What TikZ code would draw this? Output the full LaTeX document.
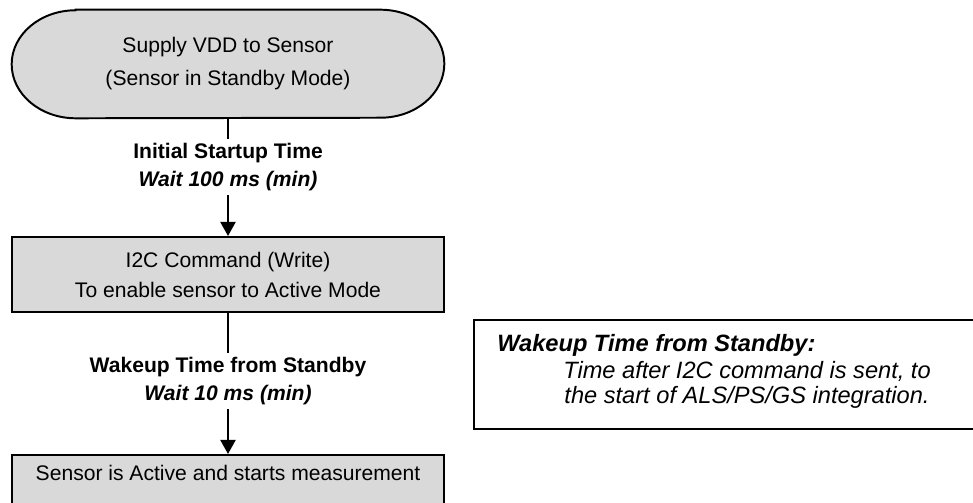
\documentclass[tikz,border=0pt]{standalone}
\usepackage{fontspec}
\setmainfont{Liberation Sans}
\usetikzlibrary{arrows.meta}

\begin{document}
\begin{tikzpicture}[x=0.025cm,y=-0.025cm,
    startbox/.style={rectangle, minimum width=10.8cm, minimum height=2.7cm, align=center,
        font=\fontsize{15}{23.4}\selectfont},
    procbox/.style={rectangle, draw=black, line width=1.4pt, fill=black!15,
        minimum width=10.8cm, minimum height=1.875cm, align=center,
        font=\fontsize{15}{21.3}\selectfont},
    waitlabel/.style={align=center, inner xsep=2pt, inner ysep=0.1cm,
        font=\fontsize{15}{20}\selectfont\bfseries},
    link/.style={line width=1.4pt},
    notebox/.style={rectangle, draw=black, line width=1.4pt, inner sep=0pt,
        minimum width=14cm, minimum height=2.725cm},
    notetext/.style={inner sep=0pt, align=center,
        font=\fontsize{16.8}{17.7}\selectfont\itshape}
]

    % page size, the right note and the last box run off the edge
    \useasboundingbox (0,0) rectangle (973,503);
    \clip (0,0) rectangle (973,503);

    % flow on the left
    \node[startbox] (supply) at (228,64) {};
    % terminal outline with elliptic ends
    \filldraw[fill=black!15, draw=black, line width=1.4pt]
        ([xshift=1.6cm]supply.north west) -- ([xshift=-1.6cm]supply.north east)
        arc[start angle=90, end angle=-90, x radius=1.6cm, y radius=1.35cm]
        -- ([xshift=1.6cm]supply.south west)
        arc[start angle=270, end angle=90, x radius=1.6cm, y radius=1.35cm] -- cycle;
    \node[startbox] (supplytext) at (supply) {Supply VDD to Sensor\\(Sensor in Standby Mode)};
    \node[waitlabel] (lblstart) at (228,167) {Initial Startup Time\\\itshape Wait 100 ms (min)};
    \node[procbox] (i2c) at (228,274.5) {I2C Command (Write)\\To enable sensor to Active Mode};
    \node[waitlabel] (lblwake) at (228,381) {Wakeup Time from Standby\\\itshape Wait 10 ms (min)};
    \node[procbox, anchor=north, inner ysep=0pt, text height=0.64cm, text depth=1.3cm]
        (active) at (228,454) {Sensor is Active and starts measurement};

    % connectors, broken by the wait labels
    \foreach \a/\l/\b in {supply/lblstart/i2c, i2c/lblwake/active} {
        \draw[link] (\a) -- (\l);
        \draw[link, -{Triangle[width=0.375cm, length=0.35cm]}] (\l) -- (\b);
    }

    % note on the right
    \node[notebox, anchor=north west] (note) at (473,319) {};
    \node[notetext, anchor=west, font=\fontsize{16.8}{17.7}\selectfont\bfseries\itshape]
        (notehead) at (497,345) {Wakeup Time from Standby:};
    \node[notetext] (notebody) at (747,384.5) {Time after I2C command is sent, to\\the start of ALS/PS/GS integration.};

\end{tikzpicture}
\end{document}
